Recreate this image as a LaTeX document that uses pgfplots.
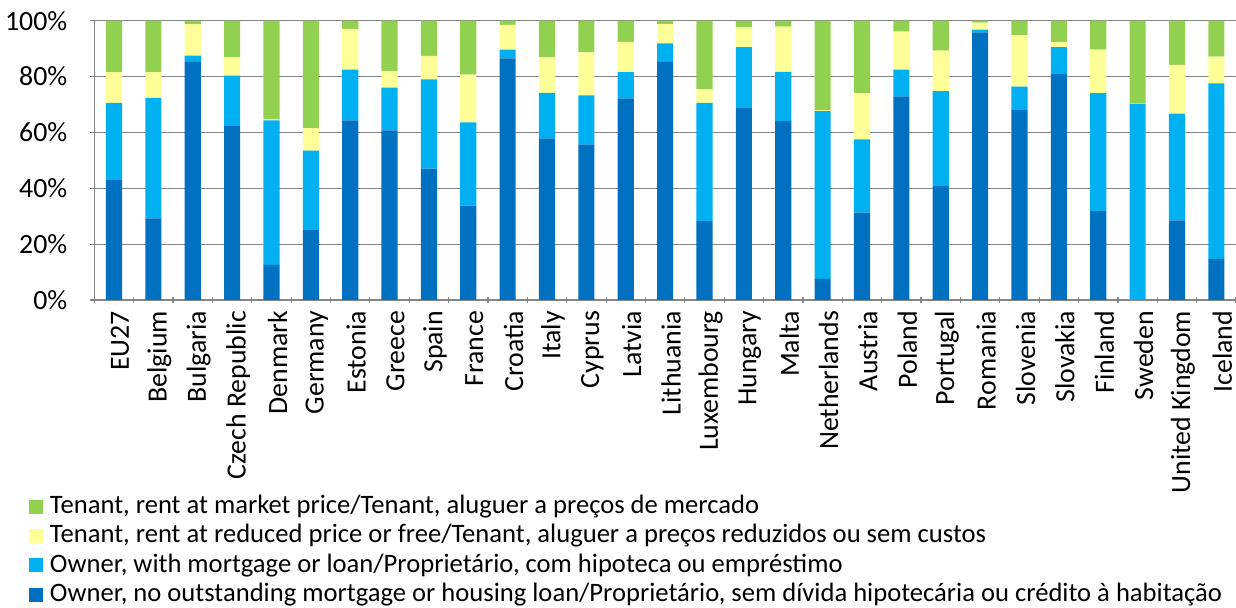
\documentclass[border=0pt]{standalone}
\usepackage{pgfplots}
\pgfplotsset{compat=1.18}
\usepackage{pgfplotstable}
\usepackage{fontspec}
\setmainfont{Carlito}
\definecolor{cDark}{HTML}{0070C0}
\definecolor{cLight}{HTML}{00B0F0}
\definecolor{cYellow}{HTML}{FFFF99}
\definecolor{cGreen}{HTML}{92D050}
\definecolor{gridgray}{RGB}{134,134,134}

\pgfplotstableread{
idx nomort mort reduced market
0  43.2 27.4 11.0 18.4
1  29.2 43.2  9.2 18.4
2  85.3  2.2 11.3  1.2
3  62.5 17.8  6.6 13.1
4  12.6 51.7  0.5 35.2
5  25.3 28.2  8.0 38.5
6  64.3 18.2 14.6  2.9
7  60.7 15.3  5.9 18.1
8  47.0 32.0  8.4 12.6
9  33.8 29.8 17.1 19.3
10 86.5  3.1  8.9  1.5
11 57.9 16.3 12.7 13.1
12 55.7 17.6 15.4 11.3
13 72.2  9.4 10.8  7.6
14 85.3  6.6  6.9  1.2
15 28.2 42.4  4.8 24.6
16 69.0 21.5  7.1  2.4
17 64.0 17.7 16.2  2.1
18  7.6 60.0  0.4 32.0
19 31.3 26.2 16.6 25.9
20 72.9  9.6 13.6  3.9
21 40.8 34.0 14.5 10.7
22 95.8  1.0  2.5  0.7
23 68.0  8.4 18.4  5.2
24 80.9  9.6  1.9  7.6
25 31.8 42.3 15.5 10.4
26  0.0 70.3  0.2 29.5
27 28.5 38.2 17.5 15.8
28 14.7 62.9  9.5 12.9
}\datatable

\begin{document}
\begin{tikzpicture}
\begin{axis}[
  scale only axis,
  width=570.85pt, height=139.65pt,
  ybar stacked, bar width=0.41,
  xmin=-0.5, xmax=28.5, ymin=0, ymax=100,
  xtick={0,...,28},
  xticklabels={EU27,Belgium,Bulgaria,Czech Republic,Denmark,Germany,Estonia,Greece,Spain,France,Croatia,Italy,Cyprus,Latvia,Lithuania,Luxembourg,Hungary,Malta,Netherlands,Austria,Poland,Portugal,Romania,Slovenia,Slovakia,Finland,Sweden,United Kingdom,Iceland},
  xticklabel style={rotate=90, anchor=east, yshift=-3pt, font=\fontsize{13.9}{16}\selectfont},
  minor xtick={-0.5,0.5,...,28.5},
  ytick={0,20,40,60,80,100},
  yticklabels={0\%,20\%,40\%,60\%,80\%,100\%},
  yticklabel style={xshift=-8pt, font=\fontsize{13.9}{16}\selectfont},
  tick align=outside,
  major tick length=4pt, minor tick length=3pt,
  xtick style={draw=none},
  minor x tick style={draw=gridgray, line width=0.6pt},
  y tick style={draw=gridgray, line width=0.6pt},
  ymajorgrids, grid style={draw=gridgray, line width=0.6pt},
  axis x line=bottom, axis y line=left,
  axis line style={-, draw=gridgray, line width=0.6pt},
  legend style={at={(axis description cs:-0.0572,-0.695)}, anchor=north west,
    draw=none, fill=none, inner sep=0pt, row sep=2.2pt, column sep=3.3pt,
    font=\fontsize{13.3}{15.5}\selectfont,
    nodes={inner sep=0pt, text height=9.5pt, text depth=3pt}},
  legend cell align=left,
  reverse legend,
  legend image code/.code={\fill[#1, draw=none] (0pt,-3.25pt) rectangle (7pt,3.75pt);},
]
\addplot[fill=cDark, draw=none] table[x=idx, y=nomort] {\datatable};
\addplot[fill=cLight, draw=none] table[x=idx, y=mort] {\datatable};
\addplot[fill=cYellow, draw=none] table[x=idx, y=reduced] {\datatable};
\addplot[fill=cGreen, draw=none] table[x=idx, y=market] {\datatable};
\legend{{Owner, no outstanding mortgage or housing loan/Proprietário, sem dívida hipotecária ou crédito à habitação},
{Owner, with mortgage or loan/Proprietário, com hipoteca ou empréstimo},
{Tenant, rent at reduced price or free/Tenant, aluguer a preços reduzidos ou sem custos},
{Tenant, rent at market price/Tenant, aluguer a preços de mercado}}
\end{axis}
\pgfresetboundingbox
\path ([shift={(-47.15pt,-154pt)}]current axis.south west) rectangle ([shift={(0pt,10.35pt)}]current axis.north east);
\end{tikzpicture}
\end{document}
